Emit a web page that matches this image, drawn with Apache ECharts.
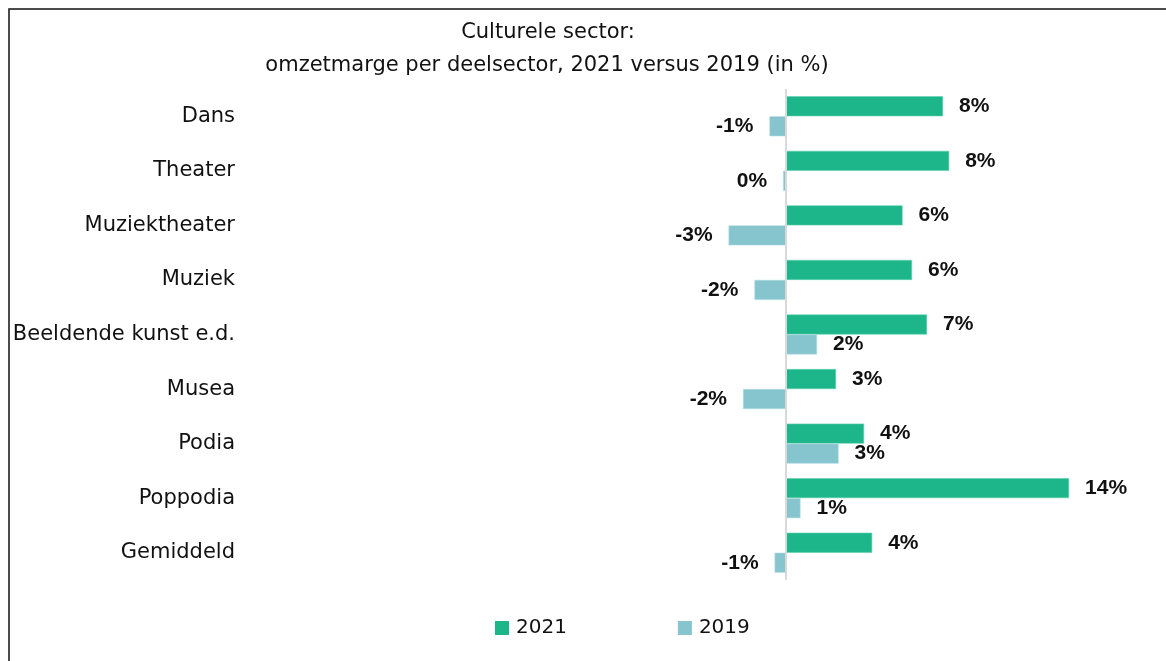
<!DOCTYPE html>
<html>
<head>
<meta charset="utf-8">
<script src="https://cdn.jsdelivr.net/npm/echarts@6/dist/echarts.min.js"></script>
<style>
  html, body { margin: 0; padding: 0; background: #fff; }
  #chart { width: 1166px; height: 661px; }
</style>
</head>
<body>
<div id="chart"></div>
<script>
// deelsectoren, van boven naar beneden
const categories = ['Dans', 'Theater', 'Muziektheater', 'Muziek', 'Beeldende kunst e.d.', 'Musea', 'Podia', 'Poppodia', 'Gemiddeld'];
const margin2021 = [7.95, 8.26, 5.9, 6.38, 7.14, 2.53, 3.95, 14.33, 4.36];
const margin2019 = [-0.84, -0.15, -2.91, -1.6, 1.57, -2.18, 2.66, 0.73, -0.58];
const seriesNames = ['2021', '2019'];
const titleLines = ['Culturele sector:', 'omzetmarge per deelsector, 2021 versus 2019 (in %)'];

const labelFont = 'DejaVu Sans';
const valueFont = 'Liberation Sans';

const chart = echarts.init(document.getElementById('chart'));

const toItems = (arr) => arr.map((v) => ({
    value: v,
    label: { position: v < 0 ? 'left' : 'right' },
}));

const barLabel = {
    show: true,
    distance: 16,
    formatter: (p) => Math.round(p.value) + '%',
    fontFamily: valueFont,
    fontWeight: 'bold',
    fontSize: 21,
    color: '#111',
};

chart.setOption({
    backgroundColor: '#fff',
    animation: false,
    graphic: [
        {
            type: 'rect',
            shape: { x: 9, y: 9, width: 1300, height: 800 },
            style: { fill: 'none', stroke: '#111', lineWidth: 1.5 },
            silent: true,
        },
        {
            type: 'text',
            x: 548, y: 33,
            style: {
                text: titleLines[0], textAlign: 'center', textVerticalAlign: 'middle',
                font: '21px "DejaVu Sans"', fill: '#111',
            },
        },
        {
            type: 'text',
            x: 547, y: 66,
            style: {
                text: titleLines[1], textAlign: 'center', textVerticalAlign: 'middle',
                font: '21px "DejaVu Sans"', fill: '#111',
            },
        },
    ],
    legend: {
        data: seriesNames,
        left: 495,
        top: 618,
        padding: 0,
        itemWidth: 14,
        itemHeight: 14,
        itemGap: 111,
        icon: 'rect',
        itemStyle: { borderWidth: 0 },
        textStyle: { fontFamily: labelFont, fontSize: 20, color: '#111', padding: [0, 0, 0, 2] },
    },
    grid: { left: 243, right: 64, top: 89, bottom: 81 },
    xAxis: {
        type: 'value',
        min: -27.5,
        max: 16,
        show: false,
    },
    yAxis: {
        type: 'category',
        data: categories,
        inverse: true,
        axisLine: { show: false },
        axisTick: { show: false },
        splitLine: { show: false },
        axisLabel: { fontFamily: labelFont, fontSize: 21, color: '#111', margin: 8 },
    },
    series: [
        {
            name: seriesNames[0],
            type: 'bar',
            barWidth: 20,
            barGap: '0%',
            data: toItems(margin2021),
            itemStyle: { color: '#1db68a', borderColor: '#5fd0ac', borderWidth: 0.6 },
            label: barLabel,
            markLine: {
                silent: true,
                symbol: 'none',
                label: { show: false },
                lineStyle: { color: '#d9d9d9', width: 2, type: 'solid' },
                data: [{ xAxis: 0 }],
            },
        },
        {
            name: seriesNames[1],
            type: 'bar',
            barWidth: 20,
            barGap: '0%',
            data: toItems(margin2019),
            itemStyle: { color: '#86c4ce', borderColor: '#b0dbe2', borderWidth: 0.6 },
            label: barLabel,
        },
    ],
});
</script>
</body>
</html>
